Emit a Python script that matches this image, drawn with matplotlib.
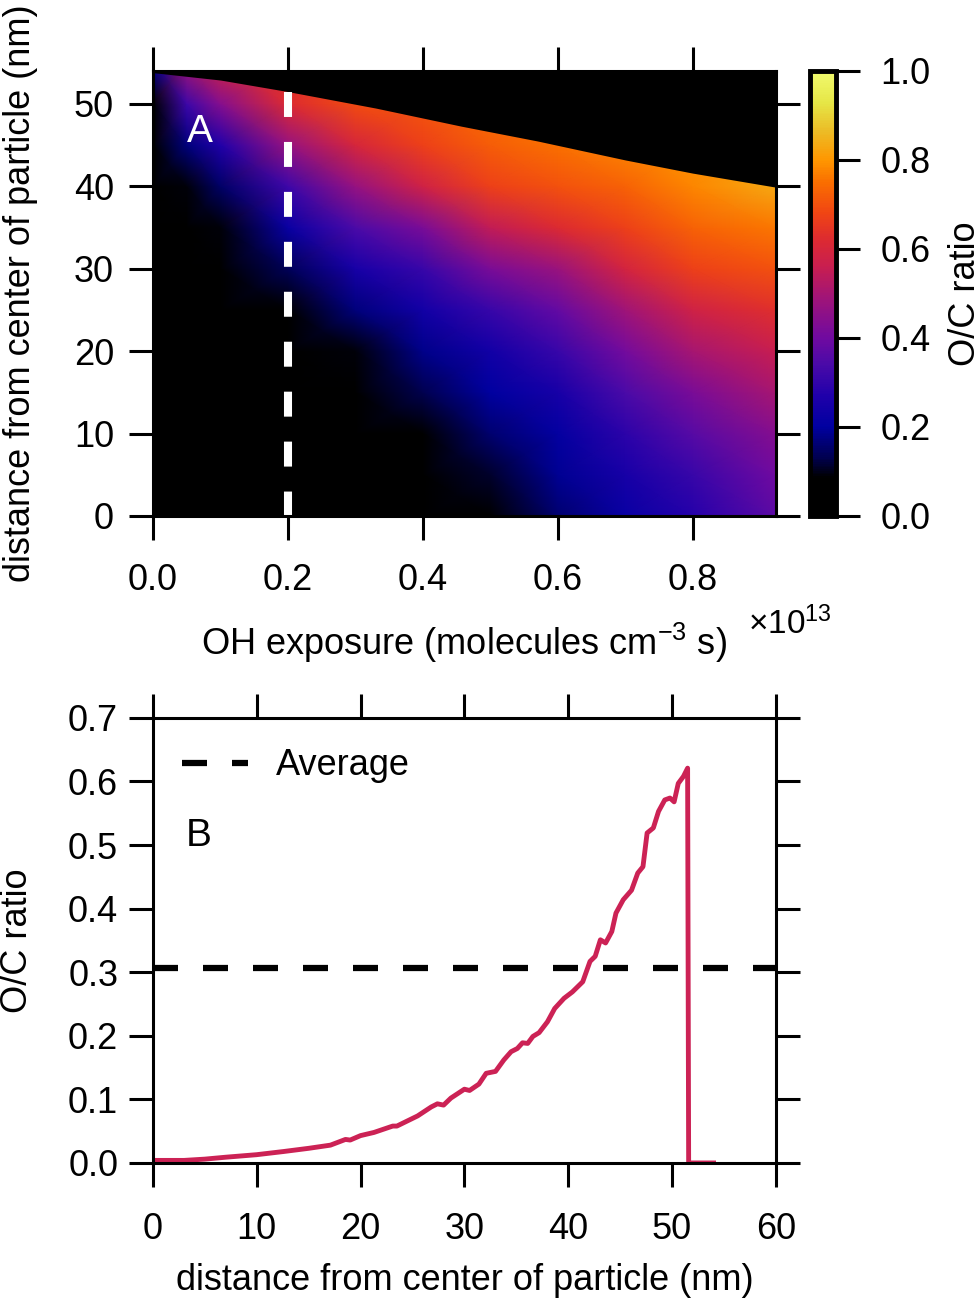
import numpy as np
import matplotlib
matplotlib.use('Agg')
import matplotlib.pyplot as plt
from matplotlib.colors import LinearSegmentedColormap

plt.rcParams['font.family'] = ['Liberation Sans', 'DejaVu Sans']
plt.rcParams['mathtext.fontset'] = 'custom'
plt.rcParams['mathtext.rm'] = 'Liberation Sans'
plt.rcParams['mathtext.default'] = 'regular'

# ---- panel A: O/C map, coarse grid ----
exposure = [0.0, 0.05, 0.1, 0.2, 0.3, 0.4, 0.5, 0.6, 0.7, 0.8, 0.923]   # x 1e13
radius = [0, 5, 10, 15, 20, 25, 30, 35, 40, 45, 50, 55]                  # nm
oc_e000 = [0, 0, 0, 0, 0, 0, 0, 0, 0, 0.02, 0.08, 0.20]
oc_e005 = [0, 0, 0, 0, 0, 0.01, 0.03, 0.05, 0.09, 0.17, 0.32, 0.50]
oc_e010 = [0, 0, 0, 0, 0.01, 0.03, 0.05, 0.09, 0.15, 0.27, 0.44, 0.60]
oc_e020 = [0, 0.01, 0.01, 0.02, 0.03, 0.06, 0.14, 0.22, 0.32, 0.47, 0.62, 0.65]
oc_e030 = [0.01, 0.02, 0.03, 0.05, 0.09, 0.17, 0.25, 0.34, 0.47, 0.60, 0.69, 0.70]
oc_e040 = [0.02, 0.03, 0.07, 0.13, 0.18, 0.24, 0.31, 0.42, 0.58, 0.67, 0.71, 0.72]
oc_e050 = [0.06, 0.11, 0.16, 0.20, 0.24, 0.31, 0.42, 0.55, 0.67, 0.72, 0.75, 0.75]
oc_e060 = [0.16, 0.19, 0.21, 0.25, 0.31, 0.38, 0.48, 0.62, 0.70, 0.75, 0.77, 0.77]
oc_e070 = [0.22, 0.25, 0.29, 0.34, 0.41, 0.49, 0.59, 0.67, 0.73, 0.78, 0.78, 0.78]
oc_e080 = [0.28, 0.31, 0.36, 0.42, 0.50, 0.58, 0.67, 0.73, 0.78, 0.80, 0.80, 0.80]
oc_e092 = [0.37, 0.40, 0.44, 0.50, 0.56, 0.63, 0.70, 0.76, 0.83, 0.83, 0.83, 0.83]

# particle surface (radius shrinks with exposure)
surf_exposure = [0.0, 0.1, 0.2, 0.33, 0.457, 0.57, 0.70, 0.80, 0.923]
surf_radius = [53.8, 52.9, 51.5, 49.5, 47.3, 45.5, 43.2, 41.6, 39.9]
profile_exposure = 0.2

# ---- panel B: O/C profile at exposure 0.2e13 ----
dist = [0, 3, 5, 7, 10, 12.6, 15, 17.1, 18.55, 19.0, 20.0, 21.3, 23.1, 23.5, 25.5,
        26.8, 27.4, 28.0, 28.7, 30.0, 30.5, 31.4, 32.1, 33.0, 33.8, 34.5, 35.1, 35.6,
        36.1, 36.6, 37.2, 38.0, 38.7, 39.6, 40.4, 41.4, 42.1, 42.6, 43.1, 43.6, 44.2,
        44.6, 45.3, 46.1, 46.7, 47.2, 47.6, 48.2, 48.7, 49.3, 49.8, 50.2, 50.6, 51.1,
        51.5, 51.6, 54.0]
oc_profile = [0.004, 0.004, 0.006, 0.009, 0.013, 0.018, 0.023, 0.028, 0.037, 0.036,
              0.043, 0.048, 0.058, 0.058, 0.074, 0.088, 0.093, 0.091, 0.102, 0.116,
              0.114, 0.124, 0.141, 0.144, 0.162, 0.175, 0.18, 0.189, 0.188, 0.199,
              0.205, 0.222, 0.243, 0.259, 0.269, 0.285, 0.317, 0.325, 0.351, 0.346,
              0.364, 0.393, 0.414, 0.429, 0.456, 0.466, 0.519, 0.527, 0.553, 0.571,
              0.574, 0.568, 0.597, 0.608, 0.621, 0.0, 0.0]
oc_average = 0.307

# colour table taken from the colour bar
cmap_pos = [0.0, 0.085, 0.13, 0.2, 0.27, 0.34, 0.4, 0.49, 0.56, 0.62, 0.68, 0.75, 0.8, 0.87, 0.93, 1.0]
cmap_col = ['#000000', '#000000', '#000050', '#0000a0', '#2000aa', '#4a0aa8', '#700aa0',
            '#a01478', '#c81e50', '#dc2a32', '#f04414', '#fa6e00', '#ff9600', '#ebbe28',
            '#e6e646', '#f0fa6e']
cmap = LinearSegmentedColormap.from_list('oc', list(zip(cmap_pos, cmap_col)))

oc_map = np.array([oc_e000, oc_e005, oc_e010, oc_e020, oc_e030, oc_e040, oc_e050,
                   oc_e060, oc_e070, oc_e080, oc_e092]).T

fig = plt.figure(figsize=(9.8, 13.02), dpi=100)
ax1 = fig.add_axes([0.156, 0.6037, 0.6357, 0.3418])
cax = fig.add_axes([0.8265, 0.6037, 0.0265, 0.3418])
ax2 = fig.add_axes([0.156, 0.1068, 0.6357, 0.3418])

fs = 26
lw = 2.2

def style(ax):
    for s in ax.spines.values():
        s.set_linewidth(lw)
    ax.tick_params(direction='out', length=17, width=lw, top=True, right=True,
                   labelsize=fs, colors='k')

# panel A
ax1.set_facecolor('k')
mesh = ax1.pcolormesh(exposure, radius, oc_map, shading='gouraud', cmap=cmap, vmin=0, vmax=1)
ax1.fill_between(surf_exposure, surf_radius, 60, color='k', lw=0)
top_r = np.interp(profile_exposure, surf_exposure, surf_radius)
ax1.plot([profile_exposure, profile_exposure], [top_r, 0], color='w', lw=5.8,
         ls=(0, (3.1, 3.1)), solid_capstyle='butt', dash_capstyle='butt')
ax1.set_xlim(0, 0.923)
ax1.set_ylim(0, 54)
ax1.set_xticks([0, 0.2, 0.4, 0.6, 0.8])
ax1.set_xticklabels(['0.0', '0.2', '0.4', '0.6', '0.8'])
ax1.set_yticks([0, 10, 20, 30, 40, 50])
style(ax1)
ax1.tick_params(axis='x', pad=17)
ax1.tick_params(axis='y', pad=11)
ax1.set_xlabel('OH exposure (molecules cm$^{-3}$ s)', fontsize=fs)
ax1.xaxis.set_label_coords(0.5, -0.235)
ax1.set_ylabel('distance from center of particle (nm)', fontsize=fs)
ax1.yaxis.set_label_coords(-0.185, 0.5)
ax1.text(0.07, 46.6, 'A', color='w', fontsize=fs + 2, ha='center', va='center')
fig.text(0.763, 0.513, '\u00d710$^{13}$', fontsize=fs - 2)

cb = fig.colorbar(mesh, cax=cax)
cb.outline.set_linewidth(lw * 1.6)
cb.set_ticks([0, 0.2, 0.4, 0.6, 0.8, 1.0])
cb.set_ticklabels(['0.0', '0.2', '0.4', '0.6', '0.8', '1.0'])
cax.tick_params(direction='out', length=17, width=lw, labelsize=fs, pad=15)
cb.set_label('O/C ratio', fontsize=fs)
cax.yaxis.set_label_coords(5.3, 0.5)

# panel B
ax2.plot(dist, oc_profile, color='#cc2255', lw=3.5)
ax2.axhline(oc_average, color='k', lw=4.5, ls=(0, (4, 4)), label='Average',
            dash_capstyle='butt')
ax2.set_xlim(0, 60)
ax2.set_ylim(0, 0.7)
ax2.set_xticks(range(0, 61, 10))
ax2.set_yticks(np.arange(0, 0.71, 0.1))
ax2.set_yticklabels([f'{v:.1f}' for v in np.arange(0, 0.71, 0.1)])
style(ax2)
ax2.tick_params(axis='x', pad=18)
ax2.tick_params(axis='y', pad=8)
ax2.set_xlabel('distance from center of particle (nm)', fontsize=fs)
ax2.xaxis.set_label_coords(0.5, -0.225)
ax2.set_ylabel('O/C ratio', fontsize=fs)
ax2.yaxis.set_label_coords(-0.19, 0.5)
ax2.legend(loc='upper left', frameon=False, fontsize=fs, handlelength=1.83,
           handletextpad=0.78, bbox_to_anchor=(0.012, 0.98), borderaxespad=0.2)
ax2.text(4.4, 0.515, 'B', fontsize=fs + 2, ha='center', va='center')

fig.savefig('out.png', dpi=100)
